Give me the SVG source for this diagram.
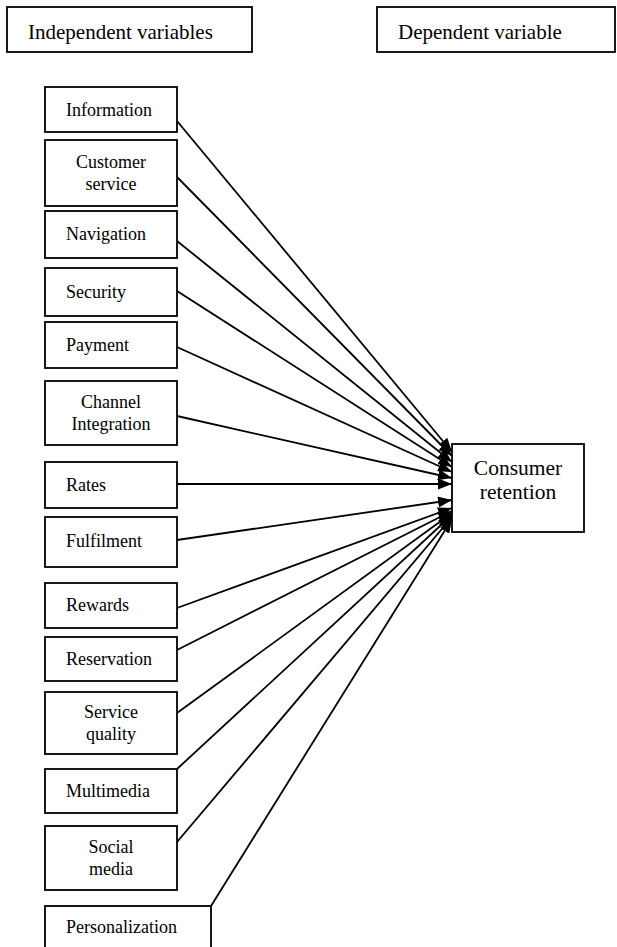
<svg xmlns="http://www.w3.org/2000/svg" width="617" height="947" viewBox="0 0 617 947">
<style>
rect.box{fill:#fff;stroke:#000;stroke-width:1.8}
text{font-family:"Liberation Serif","Times New Roman",serif;fill:#000}
.hd{font-size:21px}
.nd{font-size:18px}
.c{text-anchor:middle}
.cr{font-size:21.5px;text-anchor:middle}
#connectors line{stroke:#000;stroke-width:1.8;marker-end:url(#arr)}
</style>
<defs>
<marker id="arr" markerUnits="userSpaceOnUse" markerWidth="15" markerHeight="11" refX="14" refY="5.5" orient="auto">
<path d="M0,0 L14,5.5 L0,11 Z" fill="#000"/>
</marker>
</defs>
<g id="hdr-indep"><rect class="box" x="7" y="7" width="245" height="45"/><text class="hd" x="28" y="39">Independent variables</text></g>
<g id="hdr-dep"><rect class="box" x="377" y="7" width="238" height="45"/><text class="hd" x="398" y="39">Dependent variable</text></g>

<g id="connectors">
<line x1="177" y1="121" x2="452" y2="452"/>
<line x1="177" y1="177" x2="452" y2="456"/>
<line x1="177" y1="241" x2="452" y2="462"/>
<line x1="177" y1="291" x2="452" y2="467"/>
<line x1="177" y1="347" x2="452" y2="472"/>
<line x1="177" y1="416" x2="452" y2="478"/>
<line x1="177" y1="484" x2="452" y2="484"/>
<line x1="177" y1="540" x2="452" y2="500"/>
<line x1="177" y1="608" x2="452" y2="508"/>
<line x1="177" y1="650" x2="452" y2="511"/>
<line x1="177" y1="713" x2="452" y2="513"/>
<line x1="177" y1="769" x2="452" y2="515"/>
<line x1="177" y1="842" x2="452" y2="517"/>
<line x1="211" y1="906" x2="452" y2="519"/>
</g>

<g id="n-information"><rect class="box" x="45" y="87" width="132" height="45"/><text class="nd" x="66" y="116">Information</text></g>
<g id="n-customer-service"><rect class="box" x="45" y="140" width="132" height="66"/><text class="nd c" x="111" y="168">Customer</text><text class="nd c" x="111" y="190">service</text></g>
<g id="n-navigation"><rect class="box" x="45" y="211" width="132" height="47"/><text class="nd" x="66" y="240">Navigation</text></g>
<g id="n-security"><rect class="box" x="45" y="268" width="132" height="48"/><text class="nd" x="66" y="298">Security</text></g>
<g id="n-payment"><rect class="box" x="45" y="322" width="132" height="46"/><text class="nd" x="66" y="351">Payment</text></g>
<g id="n-channel"><rect class="box" x="45" y="381" width="132" height="64"/><text class="nd c" x="111" y="408">Channel</text><text class="nd c" x="111" y="430">Integration</text></g>
<g id="n-rates"><rect class="box" x="45" y="462" width="132" height="46"/><text class="nd" x="66" y="491">Rates</text></g>
<g id="n-fulfilment"><rect class="box" x="45" y="517" width="132" height="50"/><text class="nd" x="66" y="547">Fulfilment</text></g>
<g id="n-rewards"><rect class="box" x="45" y="583" width="132" height="45"/><text class="nd" x="66" y="611">Rewards</text></g>
<g id="n-reservation"><rect class="box" x="45" y="637" width="132" height="44"/><text class="nd" x="66" y="665">Reservation</text></g>
<g id="n-service-quality"><rect class="box" x="45" y="692" width="132" height="62"/><text class="nd c" x="111" y="718">Service</text><text class="nd c" x="111" y="740">quality</text></g>
<g id="n-multimedia"><rect class="box" x="45" y="769" width="132" height="44"/><text class="nd" x="66" y="797">Multimedia</text></g>
<g id="n-social-media"><rect class="box" x="45" y="826" width="132" height="64"/><text class="nd c" x="111" y="853">Social</text><text class="nd c" x="111" y="875">media</text></g>
<g id="n-personalization"><rect class="box" x="45" y="906" width="166" height="50"/><text class="nd" x="66" y="933">Personalization</text></g>

<g id="n-consumer-retention"><rect class="box" x="452" y="444" width="132" height="88"/><text class="cr" x="518" y="475">Consumer</text><text class="cr" x="518" y="499">retention</text></g>
</svg>
